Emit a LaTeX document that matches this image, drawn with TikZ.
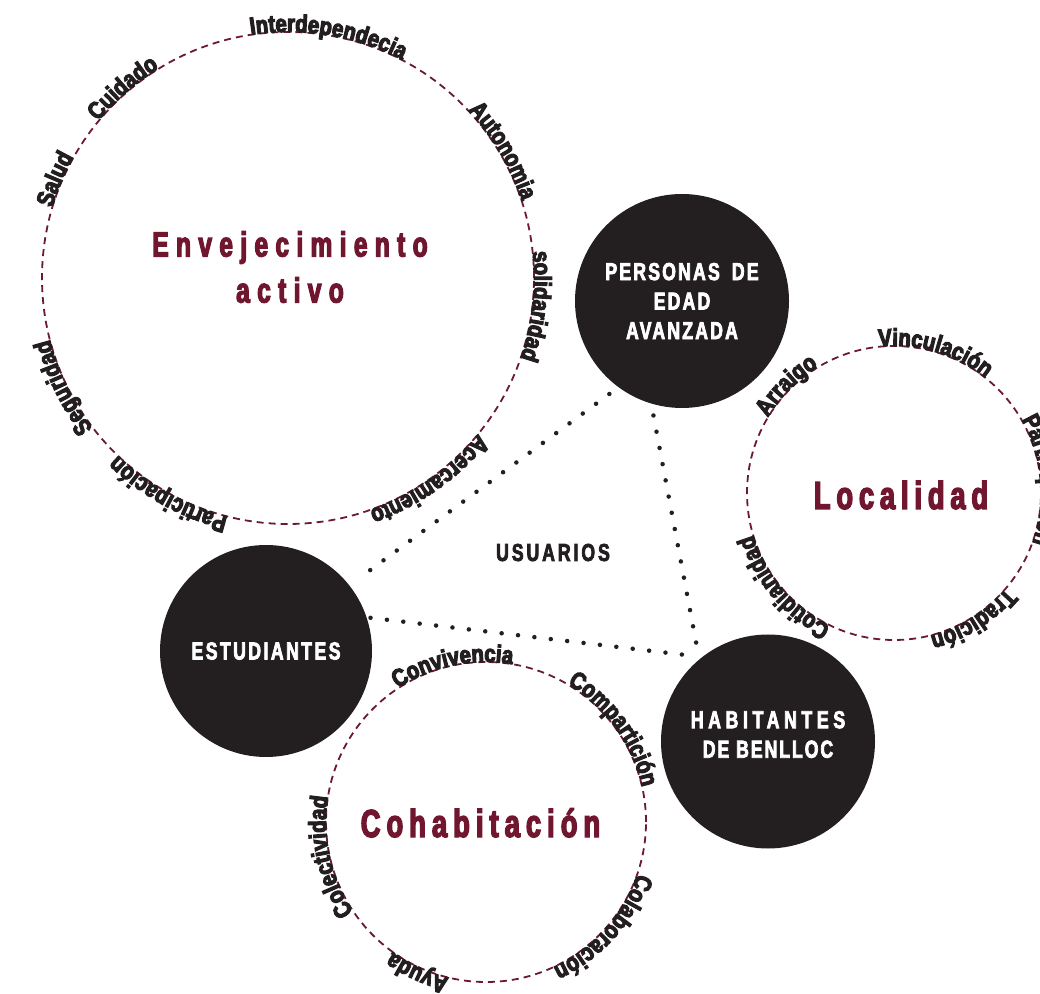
\documentclass[tikz,border=0pt]{standalone}
\usepackage{fontspec}
\usetikzlibrary{decorations.text}

\newfontfamily\lblfont{Liberation Sans}[FakeStretch=0.83, FakeBold=4.5]
\newfontfamily\ttlfont{Liberation Sans}[FakeStretch=0.7, FakeBold=3.5]
\newfontfamily\capfont{Liberation Sans}[FakeStretch=0.72, FakeBold=3]

\definecolor{wine}{HTML}{70162E}
\definecolor{ringred}{HTML}{6B1A32}
\definecolor{ink}{HTML}{231F20}

\newcommand\lblsty{\lblfont\bfseries\fontsize{24.5}{24.5}\selectfont}
% #1 ring node, #2 radius, #3 angle of the label centre, #4 word
\newcommand\ringlabel[4]{%
  \path[decorate, decoration={text along path, text align=center,
      text color=ink, raise=0pt, text={|\lblsty|#4}}]
    ([shift={(#3+75:#2)}]#1.center) arc[start angle=#3+75, end angle=#3-75, radius=#2];}

\tikzset{
  ring/.style={circle, draw=ringred, line width=1.8pt, dash pattern=on 7pt off 5pt,
    inner sep=0pt, minimum size=#1},
  disc/.style={circle, fill=ink, inner sep=0pt, minimum size=#1, outer sep=11pt},
  dotline/.style={draw=ink, line width=4.5pt, line cap=round, dash pattern=on 0pt off 16.5pt},
  headtext/.style={text=wine, inner sep=0pt},
  captext/.style={text=white, align=center, inner sep=0pt,
    font=\capfont\bfseries\fontsize{24.5}{29.5}\selectfont},
}

\begin{document}
\begin{tikzpicture}[x=1pt, y=1pt]
\useasboundingbox (0,0) rectangle (1040,993);
\clip (0,0) rectangle (1040,993);
\fill[white] (0,0) rectangle (1040,993);

% dashed theme rings
\node[ring=492pt] (E) at (288,715) {};
\node[ring=294pt] (L) at (894,500) {};
\node[ring=320pt] (C) at (486,171) {};

% user groups
\node[disc=214pt] (P) at (682,692) {};
\node[disc=212pt] (S) at (266,342) {};
\node[disc=214pt] (H) at (768,251.5) {};

% links between user groups
\draw[dotline] (P.232) -- (S.38);
\draw[dotline] (P.256) -- (H.127);
\draw[dotline, shorten <=-8pt] (S.16) -- (H.133);

% group names
\node[captext] (Pt) at (P.center) {\addfontfeature{LetterSpace=9}PERSONAS\hspace{5pt} DE\\\addfontfeature{LetterSpace=9}EDAD\\\addfontfeature{LetterSpace=9}AVANZADA};
\node[captext] (St) at (S.center) {\addfontfeature{LetterSpace=10}ESTUDIANTES};
\node[captext] (Ht) at ([yshift=7pt]H.center)
  {\addfontfeature{LetterSpace=19}HABITANTES\\\addfontfeature{LetterSpace=8}DE BENLLOC};
\node[text=ink, inner sep=0pt, font=\capfont\bfseries\fontsize{24.5}{24.5}\selectfont\addfontfeature{LetterSpace=12}] (U) at (553,440.5) {USUARIOS};

% ring titles
\node[headtext, align=center, font=\ttlfont\bfseries\fontsize{35}{46}\selectfont\addfontfeature{LetterSpace=21}] (Et) at (290,726) {Envejecimiento\\activo};
\node[headtext, anchor=base, font=\ttlfont\bfseries\fontsize{39}{39}\selectfont\addfontfeature{LetterSpace=15}] (Lt) at (901,484) {Localidad};
\node[headtext, anchor=base, font=\ttlfont\bfseries\fontsize{39}{39}\selectfont\addfontfeature{LetterSpace=15.5}] (Ct) at (480.5,156) {Cohabitación};

% words around the rings
\ringlabel{E}{246}{80.5}{Interdependecia}
\ringlabel{E}{246}{131}{Cuidado}
\ringlabel{E}{246}{157}{Salud}
\ringlabel{E}{246}{206}{Seguridad}
\ringlabel{E}{246}{241}{Participación}
\ringlabel{E}{246}{-55}{Acercamiento}
\ringlabel{E}{246}{-6.5}{solidaridad}
\ringlabel{E}{246}{30.6}{Autonomia}

\ringlabel{L}{147}{73.7}{Vinculación}
\ringlabel{L}{147}{135}{Arraigo}
\ringlabel{L}{147}{220.5}{Cotidianidad}
\ringlabel{L}{147}{-58}{Tradición}
\ringlabel{L}{147}{5}{Participación}

\ringlabel{C}{160}{102}{Convivencia}
\ringlabel{C}{160}{36}{Compartición}
\ringlabel{C}{160}{-42}{Colaboración}
\ringlabel{C}{160}{245.5}{Ayuda}
\ringlabel{C}{160}{192.5}{Colectividad}
\end{tikzpicture}
\end{document}
